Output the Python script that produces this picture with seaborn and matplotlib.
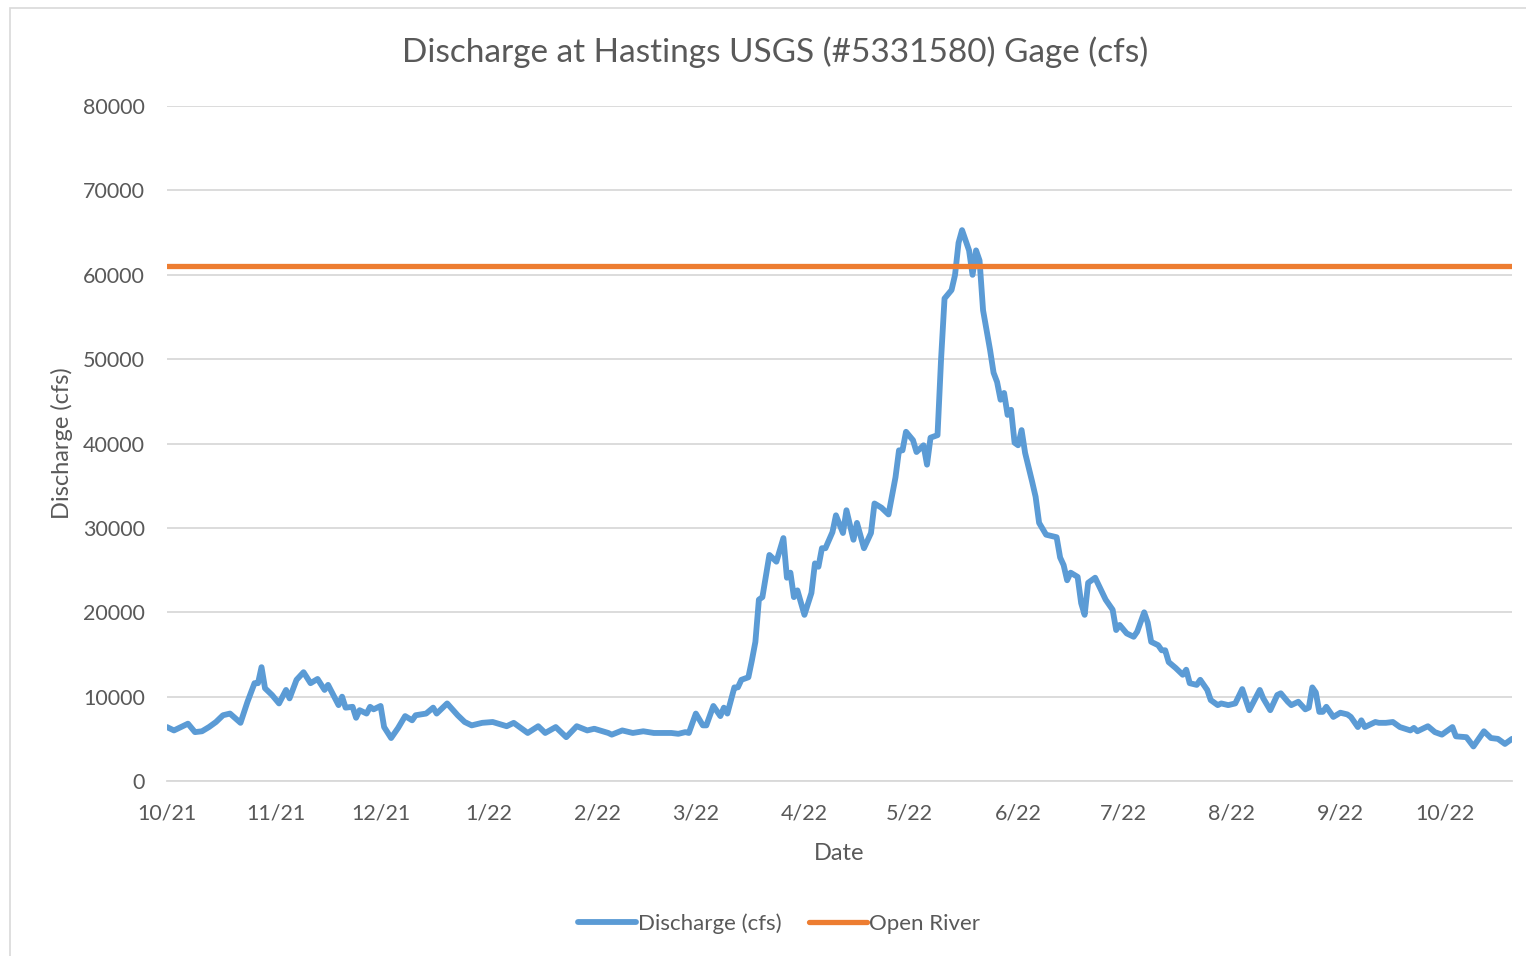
import pandas as pd
import seaborn as sns
import matplotlib.pyplot as plt
import matplotlib.dates as mdates
from matplotlib.ticker import FuncFormatter

# days since 10/1/2021
day = [0, 2, 4, 6, 8, 10, 12, 14, 16, 18, 21, 23, 25, 26, 27, 28, 30, 32, 34, 35,
       37, 39, 41, 43, 45, 46, 49, 50, 51, 53, 54, 55, 57, 58, 59, 61, 62, 64, 66, 68,
       70, 71, 74, 76, 77, 80, 83, 85, 87, 90, 93, 97, 99, 103, 106, 108, 111, 114, 117, 120,
       122, 126, 127, 130, 133, 136, 139, 144, 146, 148, 149, 151, 153, 154, 156, 158, 159, 160, 162, 163,
       164, 166, 167, 168, 169, 170, 172, 174, 176, 177, 178, 179, 180, 182, 184, 185, 186, 187, 188, 190,
       191, 193, 194, 196, 197, 199, 201, 202, 204, 206, 208, 209, 210, 211, 213, 214, 216, 217, 218, 220,
       221, 222, 224, 225, 226, 227, 229, 230, 231, 232, 233, 235, 236, 237, 238, 239, 240, 241, 242, 243,
       244, 245, 247, 248, 249, 251, 254, 255, 256, 257, 258, 260, 261, 262, 263, 265, 268, 270, 271, 272,
       274, 276, 277, 279, 280, 281, 283, 284, 285, 286, 288, 290, 291, 292, 294, 295, 297, 298, 300, 301,
       303, 305, 307, 309, 312, 313, 315, 317, 318, 320, 321, 323, 325, 326, 327, 328, 329, 330, 331, 333,
       335, 337, 338, 340, 341, 342, 345, 346, 348, 350, 352, 355, 356, 357, 360, 362, 364, 367, 368, 371,
       373, 376, 378, 380, 382, 384]
discharge = [6400, 6000, 6400, 6800, 5800, 5900, 6400, 7000, 7800, 8000, 6900, 9400, 11600, 11600, 13500, 11000, 10200, 9200, 10800, 9800,
             12000, 12900, 11600, 12100, 10800, 11400, 9000, 10000, 8700, 8800, 7500, 8400, 8000, 8800, 8500, 8900, 6400, 5100, 6300, 7700,
             7200, 7800, 8000, 8700, 8000, 9200, 7800, 7000, 6600, 6900, 7000, 6500, 6900, 5700, 6500, 5700, 6400, 5200, 6500, 6000,
             6200, 5700, 5500, 6000, 5700, 5900, 5700, 5700, 5600, 5800, 5700, 8000, 6600, 6600, 8900, 7700, 8700, 8000, 11100, 11100,
             12000, 12300, 14300, 16500, 21500, 21800, 26800, 26000, 28800, 24100, 24700, 21800, 22600, 19700, 22300, 25800, 25400, 27600, 27600, 29500,
             31500, 29400, 32100, 28600, 30600, 27600, 29400, 32900, 32400, 31600, 36000, 39200, 39200, 41400, 40400, 39000, 39800, 37500, 40700, 41000,
             49900, 57200, 58200, 60000, 63800, 65300, 62900, 60000, 62900, 61700, 55800, 51100, 48400, 47300, 45200, 46000, 43400, 44000, 40100, 39800,
             41600, 38900, 35500, 33700, 30600, 29200, 28900, 26500, 25600, 23800, 24700, 24200, 21100, 19700, 23500, 24100, 21500, 20300, 17900, 18500,
             17500, 17100, 17700, 20000, 18800, 16500, 16100, 15500, 15500, 14100, 13400, 12600, 13200, 11600, 11400, 12000, 10800, 9600, 9000, 9200,
             9000, 9200, 10900, 8400, 10800, 9800, 8400, 10200, 10400, 9400, 9000, 9400, 8500, 8700, 11100, 10500, 8200, 8200, 8800, 7600,
             8100, 7900, 7600, 6400, 7200, 6400, 7000, 6900, 6900, 7000, 6400, 6000, 6300, 5900, 6500, 5800, 5500, 6400, 5300, 5200,
             4100, 5900, 5100, 5000, 4400, 5000]
open_river = 61000

start = pd.Timestamp("2021-10-01")
df = pd.DataFrame({"Date": start + pd.to_timedelta(day, unit="D"), "Discharge (cfs)": discharge})

sns.set_style("white")
plt.rcParams["font.family"] = ["Lato", "DejaVu Sans"]
grey = "#595959"

fig = plt.figure(figsize=(15.26, 9.56), dpi=100)
ax = fig.add_axes([0.1094, 0.183, 0.8814, 0.706])

sns.lineplot(data=df, x="Date", y="Discharge (cfs)", ax=ax, color="#5B9BD5", linewidth=4.2,
             label="Discharge (cfs)", solid_joinstyle="round")
ax.axhline(open_river, color="#ED7D31", linewidth=3.8, label="Open River")

ax.set_xlim(start, start + pd.Timedelta(days=384))
ax.set_ylim(0, 80000)
ax.set_yticks(range(0, 80001, 10000))
ax.grid(axis="y", color="#D9D9D9", linewidth=1.3)
ax.set_axisbelow(True)
for s in ["left", "right", "top"]:
    ax.spines[s].set_visible(False)
ax.spines["bottom"].set_color("#D9D9D9")
ax.spines["bottom"].set_linewidth(1.3)

ax.xaxis.set_major_locator(mdates.MonthLocator())
ax.xaxis.set_major_formatter(FuncFormatter(lambda v, p: f"{mdates.num2date(v).month}/{mdates.num2date(v):%y}"))
ax.tick_params(axis="x", length=7, width=1.3, color="#D9D9D9", pad=9, labelsize=15.5, labelcolor=grey)
ax.tick_params(axis="y", length=0, pad=16, labelsize=15.5, labelcolor=grey)

ax.set_xlabel("Date", fontsize=17, color=grey, labelpad=14)
ax.set_ylabel("Discharge (cfs)", fontsize=17, color=grey, labelpad=7)
fig.text(0.508, 1 - 52 / 956, "Discharge at Hastings USGS (#5331580) Gage (cfs)", fontsize=24,
         color=grey, ha="center", va="center")

ax.legend(loc="upper center", bbox_to_anchor=(0.455, -0.166), ncol=2, frameon=False, fontsize=16,
          handlelength=2.6, handletextpad=0.1, columnspacing=1.25, labelcolor=grey)

fig.patches.append(plt.Rectangle((0.0065, -0.01), 1.1, 1.002, transform=fig.transFigure,
                                 fill=False, edgecolor="#D9D9D9", linewidth=1.2))

fig.savefig("out.png", dpi=100)
